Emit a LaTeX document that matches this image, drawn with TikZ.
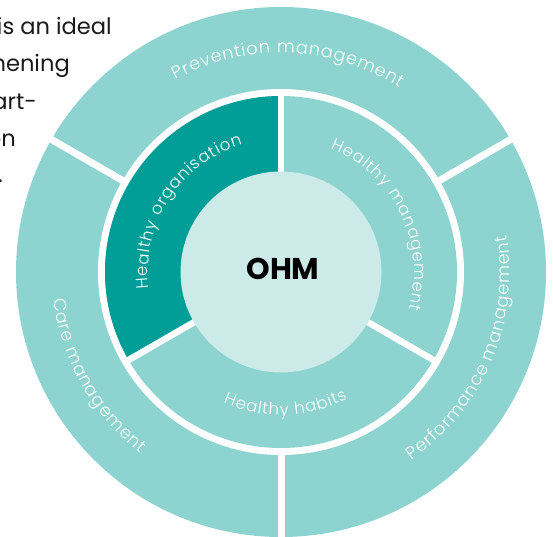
\documentclass[tikz,border=0pt]{standalone}
\usepackage{fontspec}
\setmainfont{Poppins}
\IfFontExistsTF{Poppins Light}{\newfontfamily\lblfont{Poppins Light}}{\newfontfamily\lblfont{Poppins}}
\usetikzlibrary{decorations.text}
\definecolor{ringlight}{HTML}{8DD3CF}
\definecolor{ringdark}{HTML}{009E96}
\definecolor{corefill}{HTML}{CCEBE8}
\definecolor{bodytext}{HTML}{1A1A1A}
\tikzset{
  introtext/.style={font=\fontsize{22.6}{22.6}\selectfont, text=bodytext, inner sep=0pt},
  divider/.style={draw=white, line width=7pt},
  innerdivider/.style={draw=white, line width=6.5pt},
  arclabel/.style 2 args={postaction={decorate, decoration={text effects along path,
      text={#2}, text align=center,
      text effects/.cd, text along path,
      character widths={inner xsep=0.45pt, font=\lblfont\fontsize{#1}{#1}\selectfont},
      characters={text=white, inner xsep=0.45pt, font=\lblfont\fontsize{#1}{#1}\selectfont}}}}
}
\begin{document}
\begin{tikzpicture}[x=1pt,y=1pt]
\useasboundingbox (0,0) rectangle (553,536);
\clip (0,0) rectangle (553,536);
\coordinate (C) at (281,264);
% intro text (clipped at the left edge)
\node[introtext, anchor=base east] (t1) at (112,501) {is an ideal};
\node[introtext, anchor=base east] (t2) at (70,464) {hening};
\node[introtext, anchor=base east] (t3) at (37,426) {art-};
\node[introtext, anchor=base east] (t4) at (16,389) {on};
\node[introtext, anchor=base east] (t5) at (3,353) {.};
% rings
\fill[ringlight] (C) circle[radius=265];
\fill[white] (C) circle[radius=183];
\fill[ringlight] (C) circle[radius=176];
\fill[ringdark] (C) -- ++(90:176) arc[start angle=90, end angle=210, radius=176] -- cycle;
\foreach \a in {30,150,270} \draw[divider] (C) ++(\a:178) -- ++(\a:90);
\foreach \a in {90,210,330} \draw[innerdivider] (C) ++(\a:96) -- ++(\a:82);
\fill[corefill] (C) circle[radius=100.5];
\node[font=\bfseries\fontsize{30}{30}\selectfont, text=black] (ohm) at (283,267) {OHM};
% curved labels
\path[arclabel={17.5}{Prevention management}] (C) ++(148:219) arc[start angle=148, end angle=28, radius=219];
\path[arclabel={17.5}{Performance management}] (C) ++(-83:229) arc[start angle=-83, end angle=37, radius=229];
\path[arclabel={17.5}{Care management}] (C) ++(150:229) arc[start angle=150, end angle=269, radius=229];
\path[arclabel={16.5}{Healthy organisation}] (C) ++(207:133) arc[start angle=207, end angle=87, radius=133];
\path[arclabel={16.5}{Healthy management}] (C) ++(86:133) arc[start angle=86, end angle=-34, radius=133];
\path[arclabel={16.5}{Healthy habits}] (C) ++(212:143) arc[start angle=212, end angle=332, radius=143];
\end{tikzpicture}
\end{document}
